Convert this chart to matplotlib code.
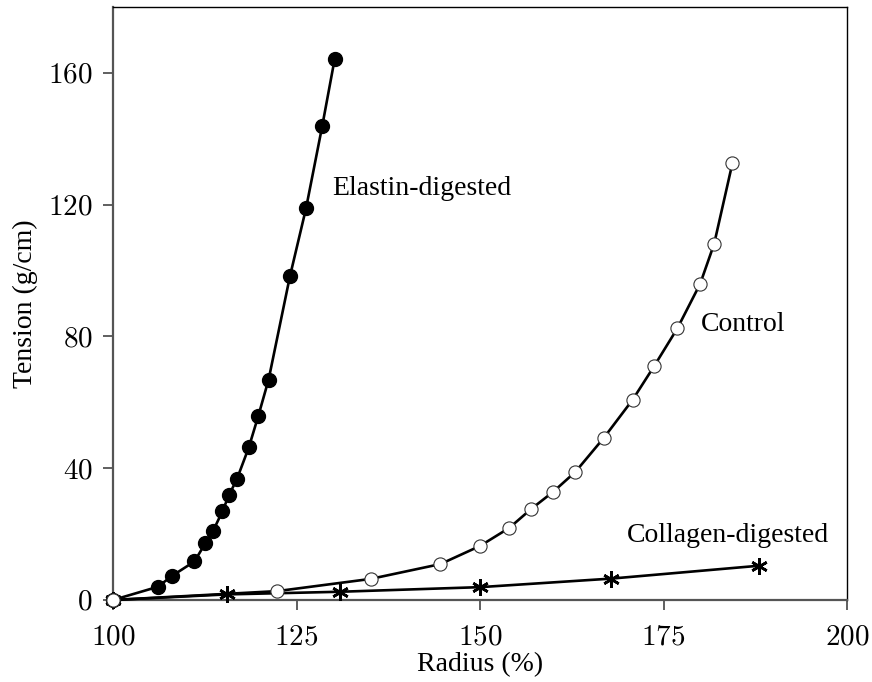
import matplotlib
matplotlib.use("Agg")
import matplotlib.pyplot as plt

plt.rcParams['font.family'] = ['Liberation Serif', 'DejaVu Serif']
plt.rcParams['mathtext.fontset'] = 'cm'

# radius (%) and tension (g/cm)
elastin_x = [100, 106.1, 108.1, 111.1, 112.6, 113.6, 114.9, 115.8, 116.9,
             118.5, 119.8, 121.2, 124.1, 126.3, 128.5, 130.2]
elastin_y = [0, 4.0, 7.4, 11.7, 17.3, 20.8, 26.9, 31.8, 36.8,
             46.3, 55.9, 66.9, 98.2, 118.9, 143.8, 164.2]

control_x = [100, 122.4, 135.1, 144.6, 150.0, 154.0, 156.9, 160.0, 163.0,
             166.9, 170.8, 173.7, 176.9, 180.0, 181.9, 184.4]
control_y = [0, 2.7, 6.4, 10.9, 16.4, 21.9, 27.5, 32.9, 38.9,
             49.3, 60.8, 70.9, 82.5, 96.0, 108.1, 132.7]

collagen_x = [100, 115.5, 130.9, 150.0, 167.9, 188.0]
collagen_y = [0, 1.7, 2.5, 3.9, 6.5, 10.4]

x_ticks = [100, 125, 150, 175, 200]
y_ticks = [0, 40, 80, 120, 160]

fig = plt.figure(figsize=(8.72, 6.82), dpi=100)
ax = fig.add_axes([113/872, 82/682, 734/872, 593/682])

ax.plot(collagen_x, collagen_y, color='black', lw=1.9,
        marker=(6, 2, 0), markersize=12, markeredgewidth=1.9,
        markeredgecolor='black', clip_on=False, zorder=3)
ax.plot(elastin_x, elastin_y, color='black', lw=1.9,
        marker='o', markersize=10, markerfacecolor='black',
        markeredgecolor='black', clip_on=False, zorder=4)
ax.plot(control_x, control_y, color='black', lw=1.9,
        marker='o', markersize=9.5, markerfacecolor='white',
        markeredgecolor='#333333', markeredgewidth=0.8,
        clip_on=False, zorder=5)

ax.text(129.8, 125.0, 'Elastin-digested', fontsize=20, ha='left', va='center')
ax.text(180.1, 83.7, 'Control', fontsize=20, ha='left', va='center')
ax.text(170.0, 19.5, 'Collagen-digested', fontsize=20, ha='left', va='center')

ax.set_xlim(100, 200)
ax.set_ylim(0, 180)
ax.set_xticks(x_ticks)
ax.set_xticklabels(['$%d$' % v for v in x_ticks])
ax.set_yticks(y_ticks)
ax.set_yticklabels(['$%d$' % v for v in y_ticks])
ax.tick_params(direction='out', length=7, width=1.2, labelsize=21,
               color='#444444')
ax.tick_params(axis='x', pad=10.5)
ax.tick_params(axis='y', pad=7.5)

for side in ['left', 'bottom']:
    ax.spines[side].set_color('#555555')
    ax.spines[side].set_linewidth(1.6)
for side in ['top', 'right']:
    ax.spines[side].set_color('black')
    ax.spines[side].set_linewidth(1.0)

ax.set_xlabel('Radius (%)', fontsize=20, labelpad=1)
ax.set_ylabel('Tension (g/cm)', fontsize=20, labelpad=7.5)

plt.savefig('out.png', dpi=100)
